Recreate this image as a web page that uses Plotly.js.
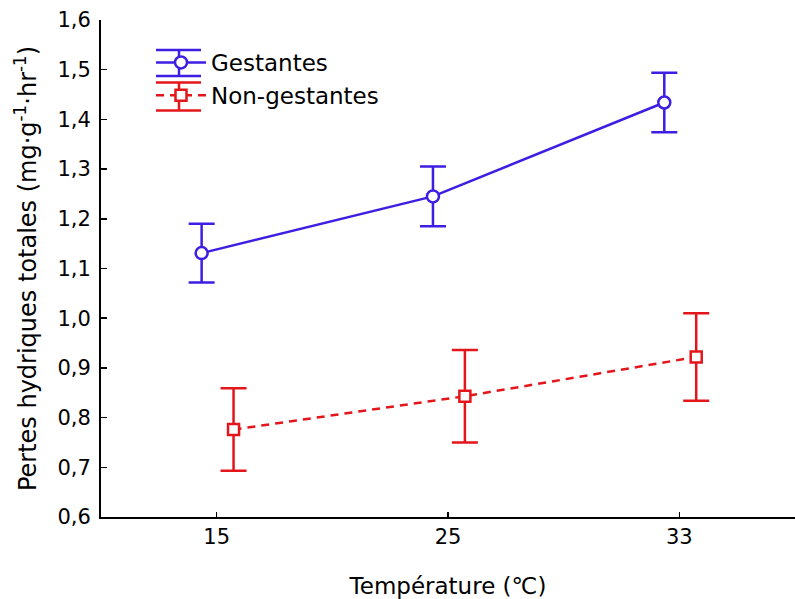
<!DOCTYPE html>
<html>
<head>
<meta charset="utf-8">
<script src="https://cdn.plot.ly/plotly-3.0.1.min.js"></script>
<style>html,body{margin:0;padding:0;background:#fff;}#chart{width:795px;height:599px;}</style>
</head>
<body>
<div id="chart"></div>
<script>
// Data
const temperatures = ['15', '25', '33'];
const gestantesMean = [1.131, 1.245, 1.434];
const gestantesErr = [0.059, 0.060, 0.060];
const nonGestantesMean = [0.776, 0.843, 0.922];
const nonGestantesErr = [0.083, 0.093, 0.088];
const yTicks = [0.6, 0.7, 0.8, 0.9, 1.0, 1.1, 1.2, 1.3, 1.4, 1.5, 1.6];

const blue = '#3d1ee2';
const red = '#e3161b';
const idx = temperatures.map((t, i) => i);
const offG = -0.065, offN = 0.073;

const M = {l: 101, r: 0, t: 20, b: 82};
const W = 795, H = 599;
const pw = W - M.l - M.r, ph = H - M.t - M.b;
const px = v => (v - M.l) / pw;           // pixel -> paper x
const py = v => (H - M.b - v) / ph;       // pixel -> paper y

// legend error-bar decorations (caps + stem) to mimic the reference legend keys
function legendKey(color, yTop, yBot) {
  const s = {type: 'line', xref: 'paper', yref: 'paper', line: {color: color, width: 2.5}, layer: 'above'};
  return [
    Object.assign({}, s, {x0: px(156), x1: px(201), y0: py(yTop), y1: py(yTop)}),
    Object.assign({}, s, {x0: px(156), x1: px(201), y0: py(yBot), y1: py(yBot)}),
    Object.assign({}, s, {x0: px(179), x1: px(179), y0: py(yTop), y1: py(yBot)})
  ];
}

const traces = [
  {
    type: 'scatter', mode: 'lines+markers', name: 'Gestantes',
    x: idx.map(i => i + offG), y: gestantesMean,
    line: {color: blue, width: 2.5},
    marker: {symbol: 'circle', size: 12, color: '#fff', line: {color: blue, width: 2.5}},
    error_y: {type: 'data', array: gestantesErr, visible: true, color: blue, thickness: 2.5, width: 13}
  },
  {
    type: 'scatter', mode: 'lines+markers', name: 'Non-gestantes',
    x: idx.map(i => i + offN), y: nonGestantesMean,
    line: {color: red, width: 2.5, dash: '8px,6px'},
    marker: {symbol: 'square', size: 11, color: '#fff', line: {color: red, width: 2.5}},
    error_y: {type: 'data', array: nonGestantesErr, visible: true, color: red, thickness: 2.5, width: 13}
  }
];

const layout = {
  width: W, height: H,
  margin: M,
  paper_bgcolor: '#fff', plot_bgcolor: '#fff',
  separators: ', ',
  font: {family: 'DejaVu Sans, Liberation Sans, sans-serif', size: 21, color: '#000'},
  showlegend: true,
  legend: {x: px(151), y: py(41), xanchor: 'left', yanchor: 'top', bgcolor: 'rgba(0,0,0,0)',
           font: {size: 23}, itemwidth: 50, tracegroupgap: 0},
  shapes: legendKey(blue, 50, 76).concat(legendKey(red, 82.5, 110.5)),
  xaxis: {
    range: [-0.5, 2.5], tickvals: idx, ticktext: temperatures,
    ticks: 'inside', ticklen: 5, tickwidth: 1.5, tickcolor: '#000',
    showline: true, linewidth: 2, linecolor: '#000',
    showgrid: false, zeroline: false,
    tickfont: {size: 21},
    title: {text: 'Température (℃)', font: {size: 23}}
  },
  yaxis: {
    range: [0.6, 1.6], tickvals: yTicks, tickformat: '.1f',
    ticks: 'inside', ticklen: 6, tickwidth: 1.5, tickcolor: '#000',
    showline: true, linewidth: 2, linecolor: '#000',
    showgrid: false, zeroline: false,
    ticklabelstandoff: 4,
    tickfont: {size: 21},
    title: {text: 'Pertes hydriques totales (mg·g<sup>-1</sup>·hr<sup>-1</sup>)', font: {size: 24}, standoff: 14}
  }
};

Plotly.newPlot('chart', traces, layout, {displayModeBar: false, staticPlot: true});
</script>
</body>
</html>
